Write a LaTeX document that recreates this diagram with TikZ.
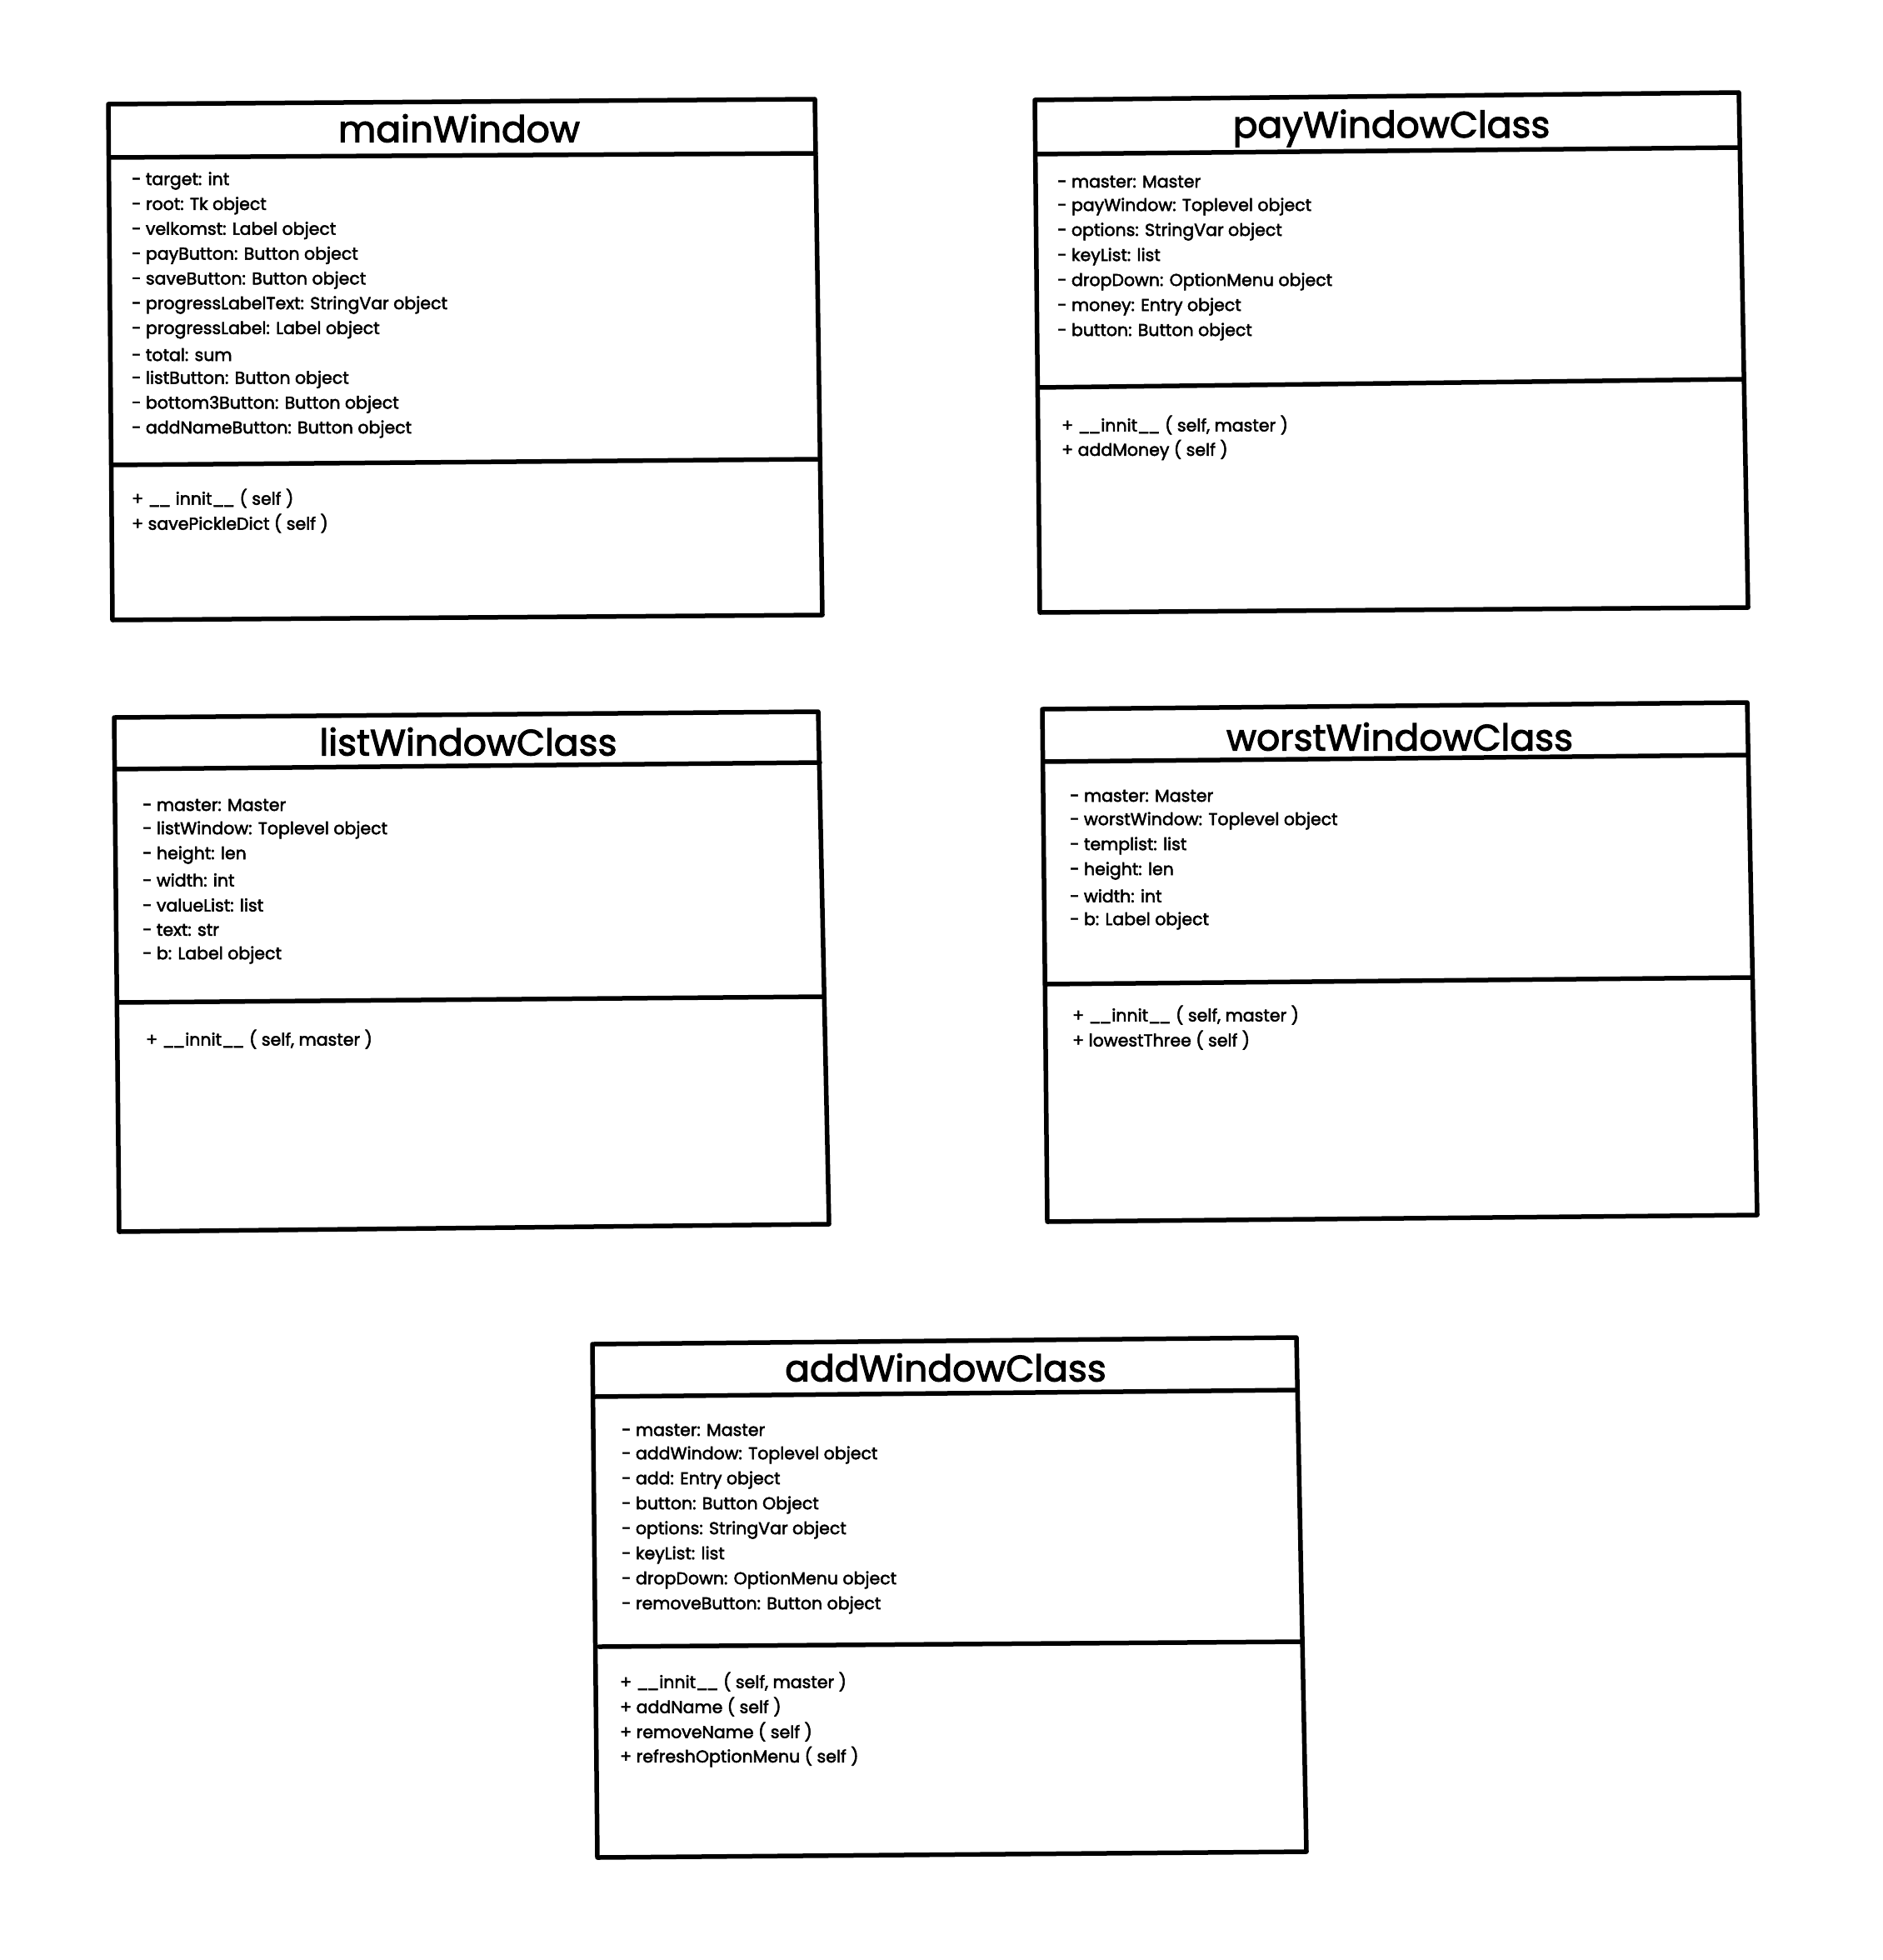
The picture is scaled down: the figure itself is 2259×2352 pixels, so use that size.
\documentclass[tikz,border=0pt]{standalone}
\usepackage{fontspec}
\setmainfont{Poppins}[FakeBold=2.5]
\newcommand\usc{\_\kern-0.12em\_}
\begin{document}
\begin{tikzpicture}[x=1pt,y=-1pt,
  frame/.style={line width=5.5pt,line join=round,line cap=round},
  ttl/.style={font=\fontsize{44}{48}\selectfont,inner sep=0pt},
  attr/.style={font=\fontsize{20.5}{24}\selectfont,inner sep=0pt,anchor=west}]
\useasboundingbox[fill=white] (0,0) rectangle (2259,2352);
% mainWindow
\draw[frame] (130,125) -- (978,119) -- (987,738) -- (135,744) -- cycle;
\draw[frame] (131,189) -- (979,184);
\draw[frame] (134,558) -- (983,551);
\node[ttl] (mwt) at (551,154) {mainWindow};
\foreach \t [count=\i from 0] in {{- target: int},{- root: Tk object},{- velkomst: Label object},{- payButton: Button object},{- saveButton: Button object},{- progressLabelText: StringVar object},{- progressLabel: Label object},{- total: sum},{- listButton: Button object},{- bottom3Button: Button object},{- addNameButton: Button object}}
  \node[attr] (mwa\i) at (158,217+29.8*\i) {\t};
\foreach \t [count=\i from 0] in {{+ \usc{} innit\usc{} ( self )},{+ savePickleDict ( self )}}
  \node[attr] (mwm\i) at (158,598+30*\i) {\t};
% payWindowClass
\draw[frame] (1242,120) -- (2087,111) -- (2098,729) -- (1248,735) -- cycle;
\draw[frame] (1243,185) -- (2088,177);
\draw[frame] (1246,465) -- (2092,455);
\node[ttl] (pwt) at (1670,154) {payWindowClass};
\foreach \t [count=\i from 0] in {{- master: Master},{- payWindow: Toplevel object},{- options: StringVar object},{- keyList: list},{- dropDown: OptionMenu object},{- money: Entry object},{- button: Button object}}
  \node[attr] (pwa\i) at (1269,218+30*\i) {\t};
\foreach \t [count=\i from 0] in {{+ \usc{}innit\usc{} ( self, master )},{+ addMoney ( self )}}
  \node[attr] (pwm\i) at (1274,510+30*\i) {\t};
% listWindowClass
\draw[frame] (137,861) -- (982,854) -- (995,1469) -- (143,1478) -- cycle;
\draw[frame] (138,923) -- (984,915);
\draw[frame] (141,1203) -- (987,1196);
\node[ttl] (lwt) at (562,890) {listWindowClass};
\foreach \t [count=\i from 0] in {{- master: Master},{- listWindow: Toplevel object},{- height: len},{- width: int},{- valueList: list},{- text: str},{- b: Label object}}
  \node[attr] (lwa\i) at (171,966+30*\i) {\t};
\node[attr] (lwm0) at (175,1247) {+ \usc{}innit\usc{} ( self, master )};
% worstWindowClass
\draw[frame] (1251,851) -- (2097,843) -- (2109,1458) -- (1257,1466) -- cycle;
\draw[frame] (1252,914) -- (2097,906);
\draw[frame] (1256,1181) -- (2102,1173);
\node[ttl] (wwt) at (1680,884) {worstWindowClass};
\foreach \t [count=\i from 0] in {{- master: Master},{- worstWindow: Toplevel object},{- templist: list},{- height: len},{- width: int},{- b: Label object}}
  \node[attr] (wwa\i) at (1284,955+30*\i) {\t};
\foreach \t [count=\i from 0] in {{+ \usc{}innit\usc{} ( self, master )},{+ lowestThree ( self )}}
  \node[attr] (wwm\i) at (1287,1218+30*\i) {\t};
% addWindowClass
\draw[frame] (711,1613) -- (1556,1605) -- (1568,2222) -- (717,2229) -- cycle;
\draw[frame] (713,1676) -- (1557,1668);
\draw[frame] (719,1976) -- (1562,1970);
\node[ttl] (awt) at (1135,1641) {addWindowClass};
\foreach \t [count=\i from 0] in {{- master: Master},{- addWindow: Toplevel object},{- add: Entry object},{- button: Button Object},{- options: StringVar object},{- keyList: list},{- dropDown: OptionMenu object},{- removeButton: Button object}}
  \node[attr] (awa\i) at (746,1716+30*\i) {\t};
\foreach \t [count=\i from 0] in {{+ \usc{}innit\usc{} ( self, master )},{+ addName ( self )},{+ removeName ( self )},{+ refreshOptionMenu ( self )}}
  \node[attr] (awm\i) at (744,2018+30*\i) {\t};
\end{tikzpicture}
\end{document}
